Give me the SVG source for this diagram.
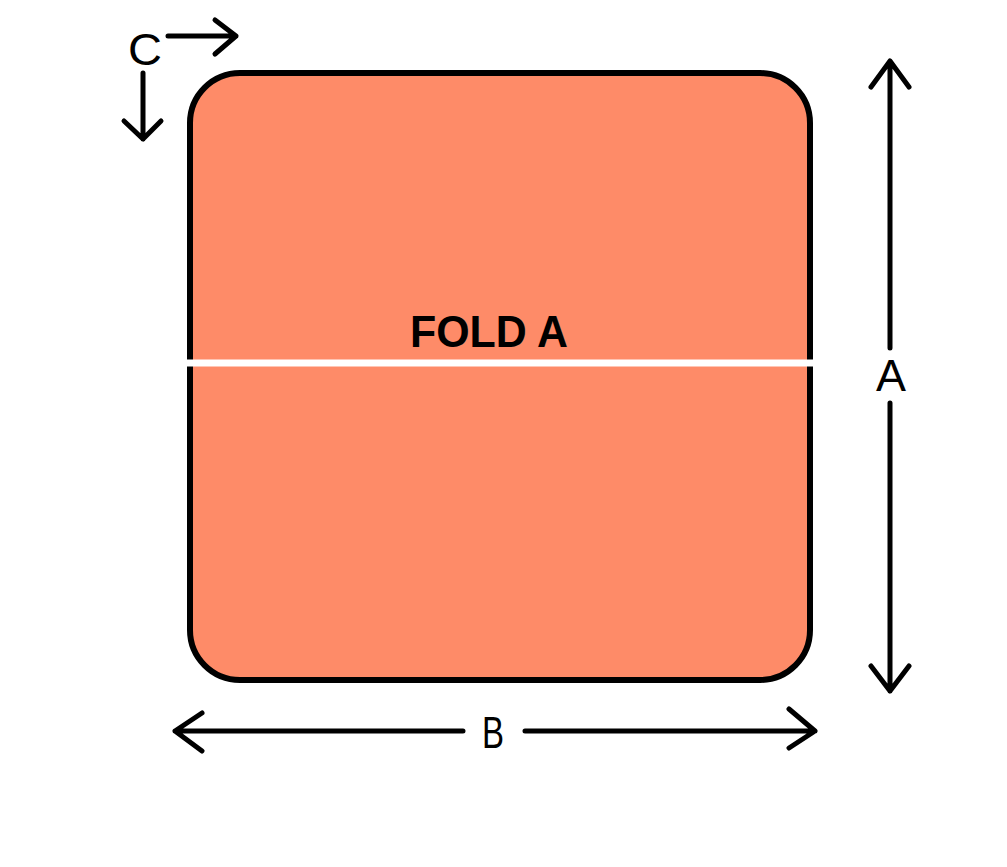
<svg xmlns="http://www.w3.org/2000/svg" width="1007" height="867" viewBox="0 0 1007 867">
<style>
.arr{fill:none;stroke:#000;stroke-width:5;stroke-linecap:round;stroke-linejoin:round}
.lbl{font-family:"Liberation Sans",Arial,sans-serif;font-size:45px;fill:#000;text-anchor:middle;font-weight:normal}
.fold{font-family:"Liberation Sans",Arial,sans-serif;font-size:44px;font-weight:bold;fill:#000;text-anchor:middle}
</style>
<rect width="1007" height="867" fill="#fff"/>
<g id="panel">
<rect x="190" y="73" width="620" height="607" rx="50" ry="50" fill="#FE8B68" stroke="#000" stroke-width="6"/>
<rect x="186" y="359.5" width="628" height="7" fill="#fff"/>
<text class="fold" x="489" y="347" textLength="158" lengthAdjust="spacingAndGlyphs">FOLD A</text>
</g>
<g id="connectors">
<path class="arr" d="M890 61 V348 M890 403 V691 M871 87 L890 61 L909 87 M871 666 L890 691 L909 666"/>
<path class="arr" d="M175 731 H463 M525 731 H815 M202 713 L175 731 L202 751 M789 709 L815 731 L789 748"/>
<path class="arr" d="M168 36 H236 M215 20 L236 36 L215 54 M143 73 V139 M124 121 L143 139 L161 121"/>
</g>
<g id="label-A"><text class="lbl" x="891" y="391" textLength="30" lengthAdjust="spacingAndGlyphs">A</text></g>
<g id="label-B"><text class="lbl" x="493" y="748" textLength="22" lengthAdjust="spacingAndGlyphs">B</text></g>
<g id="label-C"><text class="lbl" x="145" y="65" textLength="34" lengthAdjust="spacingAndGlyphs">C</text></g>
</svg>
